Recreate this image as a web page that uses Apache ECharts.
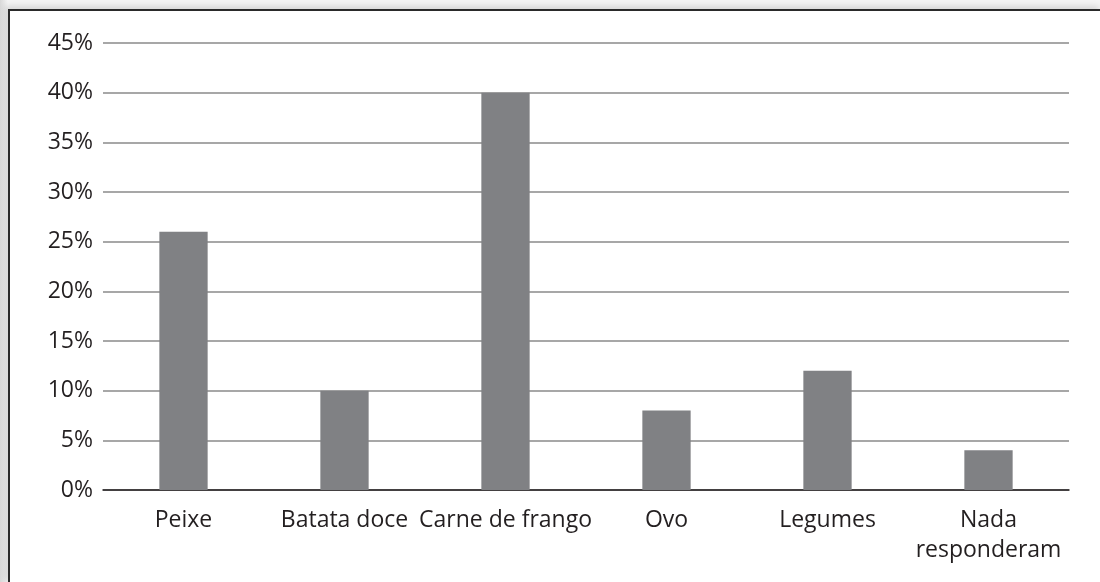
<!DOCTYPE html>
<html><head><meta charset="utf-8">
<script src="https://cdn.jsdelivr.net/npm/echarts@6/dist/echarts.min.js"></script>
<style>
html,body{margin:0;padding:0;width:1100px;height:582px;overflow:hidden;background:#e9e9e9;}
#bg{position:absolute;left:0;top:0;width:1100px;height:582px;background:linear-gradient(to right,#d8d8d8 0px,#f4f4f4 8px,#f4f4f4 100%);}
#frame{position:absolute;left:8px;top:9px;width:1092px;height:573px;background:#fff;border-left:2px solid #2a2a2a;border-top:2px solid #2a2a2a;box-shadow:-3px -3px 6px rgba(0,0,0,0.12);}
#chart{position:absolute;left:0;top:0;width:1100px;height:582px;}
</style></head>
<body>
<div id="bg"></div><div id="frame"></div>
<div id="chart"></div>
<script>
const categories = ['Peixe','Batata doce','Carne de frango','Ovo','Legumes','Nada\nresponderam'];
const values = [26, 10, 40, 8, 12, 4];
const yTicks = [0,5,10,15,20,25,30,35,40,45];

const chart = echarts.init(document.getElementById('chart'), null, {renderer:'canvas'});
chart.setOption({
  backgroundColor: 'transparent',
  animation: false,
  grid: {left: 103, right: 31, top: 43, bottom: 92, containLabel: false},
  xAxis: {
    type: 'category',
    data: categories,
    axisLine: {lineStyle: {color: '#231f20', width: 1.5}},
    axisTick: {show: false},
    axisLabel: {color: '#231f20', fontSize: 23, fontFamily: 'Open Sans', margin: 15, lineHeight: 30, interval: 0}
  },
  yAxis: {
    type: 'value',
    min: yTicks[0], max: yTicks[yTicks.length-1], interval: 5,
    axisLine: {show: false},
    axisTick: {show: false},
    splitLine: {lineStyle: {color: '#8a8a8a', width: 1.5}},
    axisLabel: {color: '#231f20', fontSize: 23, fontFamily: 'Open Sans', margin: 10, formatter: '{value}%'}
  },
  series: [{
    type: 'bar',
    data: values,
    barWidth: '30%',
    itemStyle: {color: '#808184'}
  }]
});
</script>
</body></html>
